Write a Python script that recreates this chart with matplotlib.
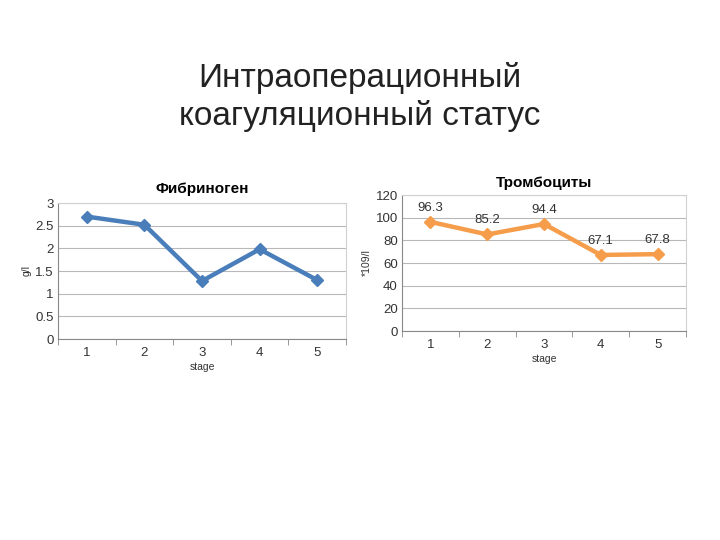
import numpy as np
import matplotlib.pyplot as plt

plt.rcParams['font.family'] = ['Liberation Sans', 'DejaVu Sans']

stages = [1, 2, 3, 4, 5]
fibrinogen = [2.7, 2.52, 1.28, 1.98, 1.3]
platelets = [96.3, 85.2, 94.4, 67.1, 67.8]
platelet_labels = ['96.3', '85.2', '94.4', '67.1', '67.8']

blue = '#4a7ebb'
orange = '#f59d4b'
grid_c = '#b8b8b8'

fig = plt.figure(figsize=(7.2, 5.4), dpi=100)
fig.text(0.5, 1 - 97 / 540, 'Интраоперационный\nкоагуляционный статус',
         ha='center', va='center', fontsize=24, linespacing=1.2, color='#222222')


def style_ax(ax, ymax, step):
    ax.set_xlim(0.5, 5.5)
    ax.set_ylim(0, ymax)
    ax.set_yticks(np.arange(0, ymax + step / 2, step))
    ax.set_xticks(stages)
    ax.set_xticks(np.arange(0.5, 5.6, 1), minor=True)
    ax.tick_params(axis='x', which='major', length=0, labelsize=9.5, colors='#333333', pad=6)
    ax.tick_params(axis='x', which='minor', length=4, color='#888888')
    ax.tick_params(axis='y', length=0, labelsize=9.5, colors='#333333', pad=3)
    ax.yaxis.grid(True, color=grid_c, linewidth=0.8)
    ax.set_axisbelow(True)
    for s in ['top', 'right']:
        ax.spines[s].set_color('#d0d0d0')
        ax.spines[s].set_linewidth(0.8)
    for s in ['left', 'bottom']:
        ax.spines[s].set_color('#888888')
        ax.spines[s].set_linewidth(0.8)
    ax.set_xlabel('stage', fontsize=7.5, color='#333333', labelpad=2)


ax1 = fig.add_axes([58 / 720, 1 - 339 / 540, 288 / 720, 136 / 540])
ax1.plot(stages, fibrinogen, color=blue, linewidth=3.2, marker='D', markersize=6.5)
style_ax(ax1, 3, 0.5)
ax1.set_yticklabels(['0', '0.5', '1', '1.5', '2', '2.5', '3'])
ax1.set_ylabel('g/l', fontsize=7.5, color='#333333', labelpad=3)
ax1.set_title('Фибриноген', fontsize=11, fontweight='bold', pad=7)

ax2 = fig.add_axes([402 / 720, 1 - 331 / 540, 284 / 720, 136 / 540])
ax2.plot(stages, platelets, color=orange, linewidth=3.2, marker='D', markersize=6.5)
style_ax(ax2, 120, 20)
ax2.set_ylabel('*109/l', fontsize=7.5, color='#333333', labelpad=3)
ax2.set_title('Тромбоциты', fontsize=11, fontweight='bold', pad=6)
for x, y, t in zip(stages, platelets, platelet_labels):
    ax2.annotate(t, (x, y), xytext=(0, 6), textcoords='offset points',
                 ha='center', va='bottom', fontsize=9.5, color='#333333')

fig.savefig('out.png', dpi=100)
